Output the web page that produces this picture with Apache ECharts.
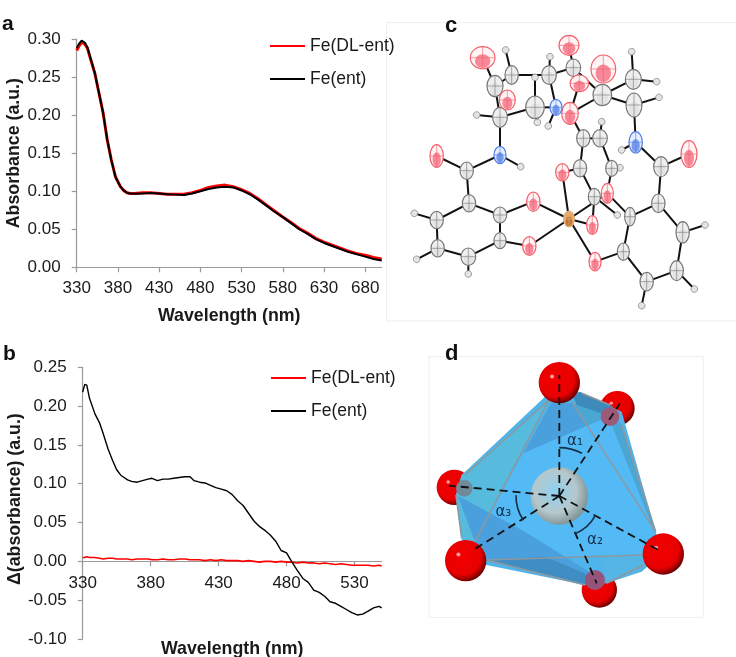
<!DOCTYPE html>
<html><head><meta charset="utf-8">
<style>html,body{margin:0;padding:0;background:#fff}#c{width:736px;height:657px}</style>
<script src="https://cdn.jsdelivr.net/npm/echarts@6/dist/echarts.min.js"></script>
</head><body><div id="c"></div>
<script>
const seriesNames = ['Fe(DL-ent)', 'Fe(ent)'];
const xTicksA = [330,380,430,480,530,580,630,680];
const xTicksB = [330,380,430,480,530];
const wavelengthA = [330,333,336,340,343,347,352,357,362,367,372,377,383,387,391,395,400,410,420,430,440,450,460,470,480,490,500,510,520,530,540,550,560,570,580,590,600,610,620,630,640,650,660,670,680,690,700];
const dlEntA = [0.285,0.291,0.296,0.293,0.288,0.273,0.255,0.229,0.203,0.168,0.141,0.119,0.106,0.101,0.098,0.097,0.097,0.098,0.098,0.097,0.096,0.096,0.096,0.098,0.101,0.105,0.107,0.108,0.106,0.102,0.097,0.090,0.082,0.074,0.066,0.059,0.051,0.045,0.038,0.033,0.029,0.025,0.021,0.018,0.016,0.013,0.011];
const entA = [0.288,0.294,0.298,0.295,0.289,0.274,0.255,0.229,0.203,0.168,0.141,0.119,0.106,0.101,0.098,0.097,0.0965,0.097,0.0975,0.097,0.096,0.0955,0.095,0.097,0.100,0.103,0.105,0.106,0.105,0.101,0.096,0.089,0.081,0.073,0.066,0.058,0.050,0.044,0.037,0.032,0.028,0.024,0.020,0.017,0.014,0.011,0.009];
const wavelengthB = [330,331.5,333,335,339,342.5,345,348.6,352,355,358,363,366,370,374,378,381,385,389,393,397,401,405,409,412,416,420,424,428,432,436,440,444,448,452,456,460,464,468,472,476,480,484,488,492,496,500,504,508,512,516,520,524,528,532,536,540,544,548,550];
const entB = [0.218,0.228,0.227,0.210,0.190,0.178,0.165,0.145,0.130,0.118,0.111,0.105,0.103,0.102,0.104,0.106,0.107,0.104,0.106,0.106,0.107,0.108,0.109,0.109,0.104,0.102,0.101,0.098,0.095,0.093,0.091,0.086,0.078,0.072,0.062,0.052,0.045,0.040,0.034,0.026,0.014,0.011,-0.001,-0.012,-0.022,-0.027,-0.037,-0.040,-0.045,-0.052,-0.054,-0.058,-0.062,-0.066,-0.069,-0.068,-0.064,-0.060,-0.058,-0.060];
const dlEntB = [0.005,0.005,0.006,0.005,0.005,0.004,0.003,0.004,0.004,0.003,0.003,0.003,0.002,0.003,0.003,0.003,0.002,0.002,0.003,0.002,0.002,0.003,0.003,0.002,0.002,0.002,0.001,0.002,0.001,0.002,0.001,0.001,0.001,0.000,0.001,0.000,-0.001,0.000,0.000,-0.001,0.000,-0.001,-0.001,-0.002,-0.001,-0.002,-0.002,-0.003,-0.002,-0.003,-0.004,-0.003,-0.004,-0.005,-0.005,-0.005,-0.005,-0.006,-0.005,-0.006];

// panel c: [x, y, rx, ry]
const oxygens = [[293,173,37,33],[552,136,30,30],[655,207,37,42],[367,300,24,30],[583,250,28,25],[555,340,25,33],[155,468,20,34],[912,462,24,40],[532,517,20,26],[445,605,20,29],[433,738,20,28],[622,675,17,28],[667,580,18,30],[630,785,18,28]];
const nitrogens = [[345,465,18,26],[513,322,18,24],[752,427,20,32]];
const irons = [[552,657,16,24]];
const carbons = [[330,258,24,32],[380,225,20,28],[492,225,22,28],[565,203,22,26],[652,285,28,32],[745,238,24,30],[747,315,24,36],[345,352,22,30],[450,322,28,34],[595,415,20,26],[645,415,22,26],[585,505,20,26],[680,505,18,24],[628,590,18,25],[245,512,20,26],[252,610,20,26],[345,645,20,24],[345,722,18,24],[250,770,22,26],[158,745,20,26],[155,660,20,26],[828,500,22,30],[820,610,20,28],[735,650,16,28],[715,755,18,26],[785,845,20,28],[875,812,20,30],[893,697,20,32]];
const hydrogens = [[362,150],[495,170],[740,155],[815,245],[822,292],[275,345],[457,367],[490,378],[650,365],[710,450],[407,500],[705,503],[697,645],[88,640],[95,778],[250,822],[770,917],[928,867],[960,675],[450,232]];
const bonds = [[155,660,252,610],[252,610,345,645],[345,645,345,722],[345,722,250,770],[250,770,158,745],[158,745,155,660],[88,640,155,660],[95,778,158,745],[250,822,250,770],[252,610,245,512],[245,512,155,468],[245,512,345,465],[345,465,407,500],[345,465,345,352],[345,352,275,345],[345,352,450,322],[345,352,330,258],[330,258,293,173],[330,258,367,300],[330,258,380,225],[380,225,362,150],[380,225,492,225],[450,232,450,322],[450,322,457,367],[450,322,513,322],[513,322,555,340],[513,322,490,378],[513,322,492,225],[492,225,495,170],[492,225,565,203],[565,203,552,136],[565,203,652,285],[565,203,583,250],[583,250,555,340],[555,340,652,285],[652,285,745,238],[745,238,740,155],[745,238,815,245],[652,285,747,315],[747,315,822,292],[747,315,752,427],[752,427,710,450],[752,427,828,500],[828,500,912,462],[828,500,820,610],[820,610,735,650],[820,610,893,697],[893,697,960,675],[893,697,875,812],[875,812,928,867],[875,812,785,845],[785,845,770,917],[785,845,715,755],[715,755,735,650],[715,755,630,785],[735,650,667,580],[667,580,552,657],[552,657,630,785],[552,657,622,675],[552,657,532,517],[552,657,445,605],[552,657,433,738],[445,605,345,645],[433,738,345,722],[532,517,585,505],[585,505,595,415],[595,415,555,340],[595,415,645,415],[645,415,650,365],[645,415,680,505],[680,505,705,503],[680,505,667,580],[585,505,628,590],[628,590,622,675],[628,590,697,645]];

// panel d
const faces = [
  {c:'#4fb4ea',p:[[403,175],[590,260],[692,620],[715,687],[545,775],[480,780],[122,707],[110,640],[93,510],[110,450]]},
  {c:'#56bbdd',p:[[372,225],[110,450],[93,510],[110,640],[150,650]]},
  {c:'#3c8bbb',p:[[445,215],[465,200],[565,245],[480,300]]},
  {c:'#4aa0dc',p:[[378,235],[295,385],[550,275],[440,235]]},
  {c:'#4aa6d3',p:[[440,235],[692,620],[590,300],[560,275]]},
  {c:'#53baf6',p:[[295,385],[550,275],[690,625],[660,688],[185,700],[150,650]]},
  {c:'#4aa0dc',p:[[98,512],[150,650],[185,700],[540,770],[300,620]]},
  {c:'#3f8dc2',p:[[185,705],[360,695],[540,770],[490,780]]},
  {c:'#55b5e4',p:[[530,690],[660,688],[695,700],[650,740],[545,775]]}
];
const edges = [[[372,225],[150,650]],[[440,230],[692,620]],[[185,705],[655,690]],[[372,225],[120,450]],[[590,300],[692,620]],[[185,705],[480,780]],[[93,510],[110,640]],[[655,720],[545,775]],[[470,205],[555,240]]];
const backSpheres = [[577,250,52],[88,487,53],[523,795,53]];
const frontSpheres = [[403,173,62],[122,707,62],[715,687,62]];
const patches = [[555,275,28,'#9a5a78'],[118,490,25,'#6f8a99'],[510,765,30,'#95557a']];
const centre = [403,513];
const spokes = [[403,150],[585,235],[72,482],[140,678],[515,775],[700,675]];
const arcs = [[145,-90,-62],[123,28,68],[130,146,181]];
const angleLabels = [['α₁',450,347],['α₂',510,645],['α₃',235,560]];

const font = '"Liberation Sans", Arial, sans-serif';
const grey = '#9a9a9a';

function ell(api, a, style, s){
  s = s || 1;
  const c = api.coord([a[0], a[1]]), z = api.size([a[2]*s, a[3]*s]);
  return {type:'ellipse', shape:{cx:c[0], cy:c[1], rx:z[0], ry:z[1]}, style};
}
function atomGroup(api, list, stroke, fill, inner, o){
  const out = [];
  list.forEach(a => {
    out.push(ell(api, a, {fill, stroke, lineWidth:1.2}));
    out.push(ell(api, [a[0], a[1]+a[3]*0.3, a[2], a[3]], {fill:inner, stroke:null, opacity:o}, .62));
    const c = api.coord([a[0], a[1]]), z = api.size([a[2], a[3]]);
    out.push({type:'line', shape:{x1:c[0]-z[0], y1:c[1], x2:c[0]+z[0], y2:c[1]}, style:{stroke, lineWidth:.6}});
    out.push({type:'line', shape:{x1:c[0], y1:c[1]-z[1], x2:c[0], y2:c[1]+z[1]}, style:{stroke, lineWidth:.6}});
  });
  return out;
}
function renderMolecule(params, api){
  if (params.dataIndex) return null;
  const ch = [];
  const tl = api.coord([5,68]), br = api.coord([1053,963]);
  ch.push({type:'rect', shape:{x:tl[0], y:tl[1], width:br[0]-tl[0]+2, height:br[1]-tl[1]}, style:{fill:'#fff', stroke:'#eeeeee', lineWidth:1}});
  bonds.forEach(b => {
    const p = api.coord([b[0],b[1]]), q = api.coord([b[2],b[3]]);
    ch.push({type:'line', shape:{x1:p[0],y1:p[1],x2:q[0],y2:q[1]}, style:{stroke:'#111', lineWidth:2}});
  });
  hydrogens.forEach(h => ch.push(ell(api, [h[0],h[1],10,10], {fill:'#e4e4e4', stroke:'#888', lineWidth:.8})));
  ch.push(...atomGroup(api, carbons, '#777', '#efefef', '#d8d8d8', .5));
  ch.push(...atomGroup(api, oxygens, '#f4606c', '#fff4f4', '#f4405a', .6));
  ch.push(...atomGroup(api, nitrogens, '#4f7fe8', '#e6edff', '#3f6fe0', .65));
  ch.push(...atomGroup(api, irons, '#e2b27e', '#e8a868', '#b87030', .9));
  return {type:'group', children:ch};
}
function sphere(api, s){
  const c = api.coord([s[0],s[1]]), z = api.size([s[2],s[2]]);
  return [
    {type:'circle', shape:{cx:c[0],cy:c[1],r:z[0]}, style:{fill:{type:'radial',x:.42,y:.4,r:.62,colorStops:[{offset:0,color:'#f40000'},{offset:.72,color:'#e80000'},{offset:1,color:'#650000'}]}}},
    {type:'circle', shape:{cx:c[0]-z[0]*.35,cy:c[1]-z[1]*.3,r:z[0]*.1}, style:{fill:'#ff9a9a'}}
  ];
}
function renderPolyhedron(params, api){
  if (params.dataIndex) return null;
  const ch = [];
  const tl = api.coord([12,95]), br = api.coord([835,878]);
  ch.push({type:'rect', shape:{x:tl[0],y:tl[1],width:br[0]-tl[0],height:br[1]-tl[1]}, style:{fill:'#fff',stroke:'#eeeeee',lineWidth:1}});
  backSpheres.forEach(s => ch.push(...sphere(api,s)));
  faces.forEach(f => ch.push({type:'polygon', shape:{points:f.p.map(p => api.coord(p))}, style:{fill:f.c}}));
  patches.forEach(p => {
    const c = api.coord([p[0],p[1]]), z = api.size([p[2],p[2]]);
    ch.push({type:'circle', shape:{cx:c[0],cy:c[1],r:z[0]}, style:{fill:p[3]}});
  });
  edges.forEach(e => {
    const p = api.coord(e[0]), q = api.coord(e[1]);
    ch.push({type:'line', shape:{x1:p[0],y1:p[1],x2:q[0],y2:q[1]}, style:{stroke:'#8d98a0', lineWidth:1.6}});
  });
  const o = api.coord(centre), rr = api.size([86,86]);
  ch.push({type:'circle', shape:{cx:o[0],cy:o[1],r:rr[0]}, style:{fill:{type:'radial',x:.42,y:.42,r:.62,colorStops:[{offset:0,color:'#8fd0f0'},{offset:.6,color:'#b5c8cc'},{offset:1,color:'#7c8e90'}]}}});
  frontSpheres.forEach(s => ch.push(...sphere(api,s)));
  spokes.forEach(s => {
    const q = api.coord(s);
    ch.push({type:'line', shape:{x1:o[0],y1:o[1],x2:q[0],y2:q[1]}, style:{stroke:'#111',lineWidth:1.8,lineDash:[8,5]}});
  });
  arcs.forEach(a => {
    const r = api.size([a[0],a[0]])[0];
    ch.push({type:'arc', shape:{cx:o[0],cy:o[1],r,startAngle:a[1]*Math.PI/180,endAngle:a[2]*Math.PI/180}, style:{stroke:'#143049',fill:null,lineWidth:1.6}});
  });
  angleLabels.forEach(l => {
    const p = api.coord([l[1],l[2]]);
    ch.push({type:'text', x:p[0], y:p[1], style:{text:l[0], fill:'#143049', font:'15px "DejaVu Sans"', align:'center', verticalAlign:'middle'}});
  });
  return {type:'group', children:ch};
}

const line = (name, xs, ys, color, width, gi) => ({
  name, type:'line', xAxisIndex:gi, yAxisIndex:gi, showSymbol:false, symbol:'none', smooth:false,
  data: xs.map((x,i)=>[x,ys[i]]), lineStyle:{color, width}, itemStyle:{color}, animation:false, z:3
});
const axisLine = {lineStyle:{color:grey, width:1.2}};
const axisTick = {length:5, lineStyle:{color:grey, width:1.2}};
const tickStyle = {color:'#1a1a1a', fontFamily:font, fontSize:17};
const titleStyle = {color:'#1a1a1a', fontFamily:font, fontSize:17.8, fontWeight:'bold'};
const legendBase = {orient:'vertical', icon:'rect', itemWidth:35, itemHeight:2, itemGap:15, padding:0, data:seriesNames,
  textStyle:{color:'#1a1a1a', fontFamily:font, fontSize:17.5, lineHeight:18}, selectedMode:false};
const letter = (t,x,y,size,fam) => ({type:'text', x, y, style:{text:t, font:'bold '+size+'px '+fam, fill:'#111', verticalAlign:'alphabetic'}, z:50});

const option = {
  backgroundColor:'#fff', animation:false,
  grid:[
    {left:76.7, top:39, width:305, height:228.3, outerBoundsMode:'none'},
    {left:82.7, top:367.3, width:299, height:271.7, outerBoundsMode:'none'},
    {left:385, top:0, width:351, height:330, outerBoundsMode:'none'},
    {left:425, top:325, width:290, height:300, outerBoundsMode:'none'}
  ],
  legend:[
    Object.assign({left:270, top:37}, legendBase),
    Object.assign({left:271, top:369}, legendBase)
  ],
  xAxis:[
    {gridIndex:0, type:'value', min:330, max:700, splitLine:{show:false}, axisLine, axisTick:Object.assign({customValues:xTicksA},axisTick),
     axisLabel:Object.assign({customValues:xTicksA, margin:13, formatter:v=>String(v)},tickStyle),
     name:'Wavelength (nm)', nameLocation:'middle', nameGap:40, nameTextStyle:titleStyle},
    {gridIndex:1, type:'value', min:330, max:550, offset:-77.7, splitLine:{show:false}, axisLine:Object.assign({onZero:false},axisLine), axisTick:Object.assign({customValues:xTicksB},axisTick),
     axisLabel:Object.assign({customValues:xTicksB, margin:14, formatter:v=>String(v)},tickStyle),
     name:'Wavelength (nm)', nameLocation:'middle', nameGap:79, nameTextStyle:titleStyle},
    {gridIndex:2, type:'value', min:0, max:1053, show:false},
    {gridIndex:3, type:'value', min:0, max:870, show:false}
  ],
  yAxis:[
    {gridIndex:0, type:'value', min:0, max:0.3, interval:0.05, splitLine:{show:false}, axisLine:Object.assign({show:true},axisLine), axisTick:Object.assign({show:true},axisTick),
     axisLabel:Object.assign({margin:16, formatter:v=>v.toFixed(2)},tickStyle),
     name:'Absorbance (a.u.)', nameLocation:'middle', nameGap:54, nameTextStyle:titleStyle},
    {gridIndex:1, type:'value', min:-0.1, max:0.25, interval:0.05, splitLine:{show:false}, axisLine:Object.assign({show:true},axisLine), axisTick:Object.assign({show:true},axisTick),
     axisLabel:Object.assign({margin:16, formatter:v=>v.toFixed(2)},tickStyle),
     name:'Δ(absorbance) (a.u.)', nameLocation:'middle', nameGap:59, nameTextStyle:Object.assign({padding:[0,0,0,8]},titleStyle)},
    {gridIndex:2, type:'value', min:0, max:990, inverse:true, show:false},
    {gridIndex:3, type:'value', min:0, max:900, inverse:true, show:false}
  ],
  graphic:[
    letter('a',2,14,21,font), letter('b',3,344,21,font),
    letter('c',445,15,22,font), letter('d',445,343,22,font)
  ],
  series:[
    line(seriesNames[0], wavelengthA, dlEntA, '#ff0000', 3, 0),
    line(seriesNames[1], wavelengthA, entA, '#000000', 2, 0),
    line(seriesNames[0], wavelengthB, dlEntB, '#ff0000', 1.6, 1),
    line(seriesNames[1], wavelengthB, entB, '#000000', 1.4, 1),
    {type:'custom', xAxisIndex:2, yAxisIndex:2, coordinateSystem:'cartesian2d', renderItem:renderMolecule, data:[[0,0]], clip:false, silent:true, z:1},
    {type:'custom', xAxisIndex:3, yAxisIndex:3, coordinateSystem:'cartesian2d', renderItem:renderPolyhedron, data:[[0,0]], clip:false, silent:true, z:1}
  ]
};
const chart = echarts.init(document.getElementById('c'), null, {renderer:'canvas'});
chart.setOption(option);
</script></body></html>
